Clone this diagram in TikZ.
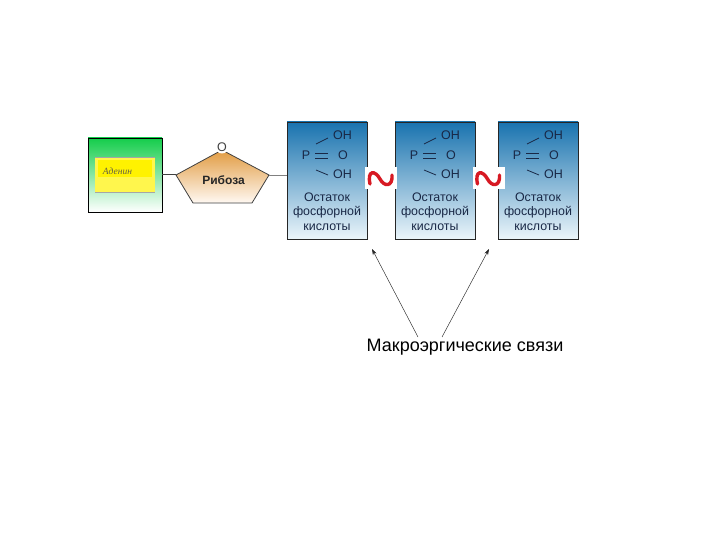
\documentclass[tikz,border=0pt]{standalone}
\usepackage{fontspec}
\setmainfont{Liberation Sans}
\newfontfamily\adfont{Liberation Serif}
\usetikzlibrary{arrows.meta}
\definecolor{blueT}{RGB}{25,115,175}
\definecolor{blueB}{RGB}{235,245,250}
\definecolor{wavered}{RGB}{215,25,35}
\definecolor{textblue}{RGB}{25,40,70}
\definecolor{greenT}{RGB}{20,205,75}
\definecolor{tanT}{RGB}{225,155,65}
\tikzset{
 x=1pt,y=-1pt,
 bluebox/.style={draw=black!85,line width=0.9pt,top color=blueT,bottom color=blueB,minimum width=80pt,minimum height=117pt,inner sep=0pt},
 chem/.style={font=\fontsize{12.5}{14}\selectfont,text=textblue,inner sep=0pt},
 captext/.style={font=\fontsize{12.4}{14}\selectfont,text=textblue,align=center,inner sep=0pt},
 bondline/.style={line width=0.8pt,textblue},
 wavy/.style={draw=wavered,line width=3.4pt,line cap=round},
 patchbox/.style={fill=white,draw=none,minimum width=32pt,minimum height=22pt,inner sep=0pt},
 pointer/.style={line width=0.45pt,black!85,-{Stealth[length=6pt,width=4pt]}},
}
\newcommand{\phos}[2]{%
 \node[bluebox] (#1) at (#2,180.5) {};
 \node[chem] at (#2-21,155.5) {P};
 \node[chem] at (#2+16,155.5) {O};
 \node[chem] at (#2+15.5,135.5) {OH};
 \node[chem] at (#2+15.5,174.5) {OH};
 \draw[bondline] (#2-12,153) -- (#2+1,153) (#2-12,158) -- (#2+1,158);
 \draw[bondline] (#2-11,144) -- (#2+1,138);
 \draw[bondline] (#2-11,170) -- (#2+1,175);
 \node[captext] at (#2,197) {Остаток};
 \node[captext] at (#2,212.5) {фосфорной};
 \node[captext] at (#2,227.5) {кислоты};
}
\begin{document}
\begin{tikzpicture}
\useasboundingbox (0,0) rectangle (720,540);
\fill[white] (0,0) rectangle (720,540);
% green box
\node[draw=black,line width=0.9pt,top color=greenT,bottom color=white,minimum width=74pt,minimum height=74pt,inner sep=0pt] (aden) at (125,175) {};
\node[fill=yellow!70!white,draw=none,minimum width=60pt,minimum height=35pt,inner sep=0pt] (adyel) at (125,174.5) {};
\draw[black!35,line width=0.4pt] (95,157) -- (155,157) (95,192) -- (155,192);
\node[fill=yellow,minimum width=54pt,minimum height=17pt,inner sep=0pt] (adin) at (124.5,168.5) {};
\node[font=\adfont\itshape\fontsize{9.5}{10}\selectfont,text=black!70!yellow,inner sep=0pt] (adtext) at (117.5,171) {Аденин};
% pentagon
\coordinate (pl) at (176,175);
\coordinate (pr) at (269,175);
\draw[draw=black!75,line width=0.8pt,top color=tanT,bottom color=white!95!orange]
 (222,150) -- (pr) -- (252,203) -- (193,203) -- (pl) -- cycle;
\node[font=\fontsize{12}{14}\selectfont\bfseries,text=black!85,inner sep=0pt] (rib) at (223.5,180.5) {Рибоза};
\node[circle,fill=white,minimum size=13pt,inner sep=0pt] (oh) at (222,147) {};
\node[font=\fontsize{12.5}{14}\selectfont,text=black!75,inner sep=0pt] (o) at (222,147) {O};
\draw[line width=1pt,black!75] (aden.east |- pl) -- (pl);
% blue boxes
\phos{a}{327}
\phos{b}{435}
\phos{c}{538}
\draw[black!50,line width=0.6pt] (pr) -- (a.west |- pr);
% waves
\node[patchbox] (w1) at (381,178) {};
\node[patchbox] (w2) at (488.5,178) {};
\foreach \n in {w1,w2}{
 \draw[wavy] ([shift={(-11,6)}]\n.center) .. controls ([shift={(-14,-8)}]\n.center) and ([shift={(-6,-8)}]\n.center) .. ([shift={(-1,1)}]\n.center)
  .. controls ([shift={(3,9)}]\n.center) and ([shift={(12,9)}]\n.center) .. ([shift={(11,-3)}]\n.center);
}
% label and arrows
\node[font=\fontsize{18}{20}\selectfont,inner sep=0pt] (lab) at (465,347.5) {Макроэргические связи};
\coordinate (t1) at (372,249);
\coordinate (t2) at (489,249);
\coordinate (s1) at (418,337);
\coordinate (s2) at (442,337);
\draw[pointer] (s1) -- (t1);
\draw[pointer] (s2) -- (t2);
\end{tikzpicture}
\end{document}
